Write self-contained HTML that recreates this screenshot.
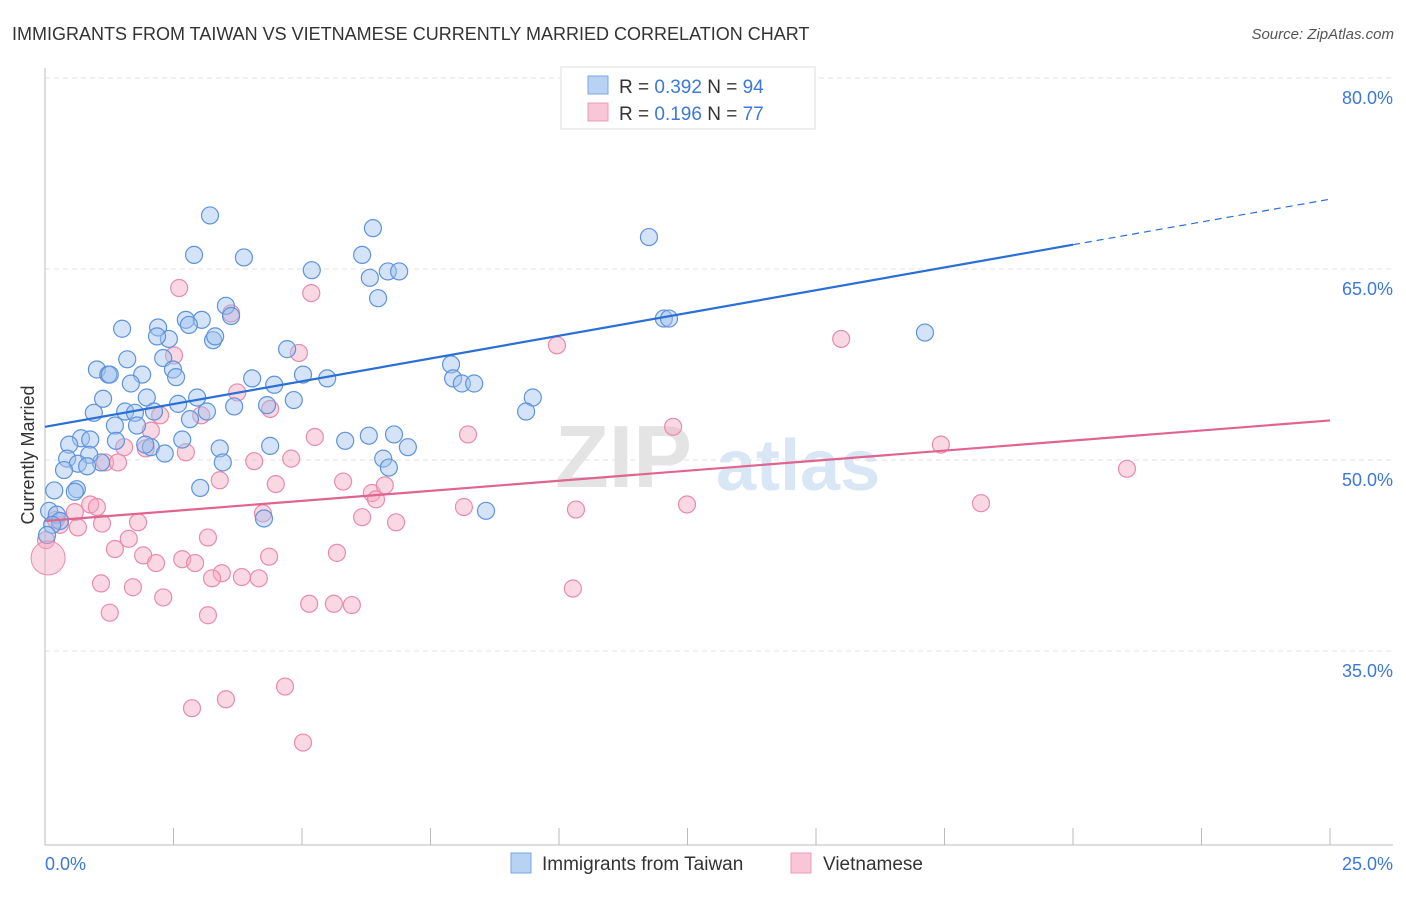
<!DOCTYPE html>
<html><head><meta charset="utf-8"><style>
body{margin:0;background:#fff;font-family:"Liberation Sans",sans-serif}
svg text{font-family:"Liberation Sans",sans-serif}
</style></head><body>
<svg id="chart" width="1406" height="892" xmlns="http://www.w3.org/2000/svg">
<text x="12" y="40" font-size="18" fill="#333">IMMIGRANTS FROM TAIWAN VS VIETNAMESE CURRENTLY MARRIED CORRELATION CHART</text>
<text x="1394" y="39" font-size="15" fill="#555" font-style="italic" text-anchor="end">Source: ZipAtlas.com</text>
<g>
<text x="555" y="487" font-size="88" fill="#e4e4e4" font-family="Liberation Serif" font-weight="bold">ZIP</text>
<text x="716" y="490" font-size="72" fill="#d8e6f5" font-weight="bold">atlas</text>
</g>
<g id="grid"></g>
<g id="axes"></g>
<g id="pts"></g>
<g id="lines"></g>
<text x="34" y="455" font-size="18" fill="#333" text-anchor="middle" transform="rotate(-90 34 455)">Currently Married</text>
<text x="45" y="870" font-size="18" fill="#3b78d8">0.0%</text>
<text x="1393" y="870" font-size="18" fill="#3b78d8" text-anchor="end">25.0%</text>
<g>
<rect x="561" y="67" width="254" height="62" fill="#fff" stroke="#ddd"/>
<rect x="588" y="76" width="20" height="18" fill="#b8d2f3" stroke="#7aa5e3"/>
<rect x="588" y="103" width="20" height="18" fill="#f8c6d6" stroke="#eb9bb7"/>
<text x="619" y="93" font-size="19" fill="#333">R = <tspan fill="#3b78d8">0.392</tspan>   N = <tspan fill="#3b78d8">94</tspan></text>
<text x="619" y="120" font-size="19" fill="#333">R =  <tspan fill="#3b78d8">0.196</tspan>   N = <tspan fill="#3b78d8">77</tspan></text>
</g>
<g>
<rect x="511" y="853" width="20" height="20" fill="#b8d2f3" stroke="#7aa5e3"/>
<text x="542" y="870" font-size="19" fill="#333">Immigrants from Taiwan</text>
<rect x="791" y="853" width="20" height="20" fill="#f8c6d6" stroke="#eb9bb7"/>
<text x="823" y="870" font-size="19" fill="#333">Vietnamese</text>
</g>
</svg>
<script>
const yTicks=[80,65,50,35];
const xTicks=[0,2.5,5,7.5,10,12.5,15,17.5,20,22.5,25];
const blueX=[3.21,2.90,3.87,6.38,6.17,5.19,6.32,6.67,6.89,6.48,11.75,3.52,3.62,2.74,3.05,2.20,2.80,1.50,3.27,3.31,2.41,2.18,1.60,2.30,1.01,1.23,1.26,2.49,1.89,1.67,2.55,4.71,5.02,5.49,7.90,7.94,8.11,8.35,9.49,9.36,12.04,12.14,17.12,4.03,4.46,4.84,4.32,3.68,3.15,2.59,2.96,1.98,1.13,0.95,1.56,1.75,2.12,2.82,1.36,1.79,2.06,1.95,1.38,0.70,0.88,0.47,2.67,3.40,4.38,5.84,6.30,6.79,7.06,6.58,6.69,3.46,2.33,1.09,0.86,0.43,0.64,0.37,0.82,3.02,4.26,8.58,0.62,0.58,0.18,0.08,0.23,0.29,0.14,0.04];
const blueY=[70.7,67.6,67.4,69.7,67.6,66.4,65.8,66.3,66.3,64.2,69.0,63.6,62.8,62.5,62.5,61.9,62.1,61.8,60.9,61.2,61.0,61.2,59.4,59.5,58.6,58.2,58.2,58.6,58.2,57.5,58.0,60.2,58.2,57.9,59.0,57.9,57.5,57.5,56.4,55.3,62.6,62.6,61.5,57.9,57.4,56.2,55.8,55.7,55.3,55.9,56.4,56.4,56.3,55.2,55.3,55.2,55.3,54.7,54.2,54.2,52.5,52.7,53.0,53.2,53.1,52.7,53.1,52.4,52.6,53.0,53.4,53.5,52.5,51.6,50.9,51.3,52.0,51.3,51.9,51.6,51.2,50.7,51.0,49.3,46.9,47.5,49.2,49.0,49.1,47.5,47.2,46.7,46.4,45.6];
const pinkX=[2.61,5.18,3.62,9.96,15.49,2.51,4.94,3.74,4.38,2.24,3.04,2.06,5.25,8.23,12.22,17.43,21.05,1.54,1.17,1.42,1.96,2.74,4.07,4.79,3.40,4.49,5.80,6.36,6.61,6.44,18.21,12.49,10.33,8.15,4.24,6.17,6.83,0.88,1.01,0.58,0.64,0.29,0.21,1.11,1.81,3.17,4.36,5.68,1.36,1.63,1.91,2.16,2.67,2.92,3.44,3.25,3.83,4.16,1.09,1.71,2.30,5.14,5.62,5.97,10.27,1.26,3.17,4.67,3.52,2.86,5.02,0.02];
const pinkY=[65.0,64.6,63.0,60.5,61.0,59.7,59.9,56.8,55.5,55.0,55.0,53.8,53.3,53.5,54.1,52.7,50.8,52.5,51.3,51.3,52.4,52.1,51.4,51.6,49.9,49.6,49.8,48.9,49.5,48.4,48.1,48.0,47.6,47.8,47.3,47.0,46.6,48.0,47.8,47.4,46.2,46.4,46.8,46.5,46.6,45.4,43.9,44.2,44.5,45.3,44.0,43.4,43.7,43.4,42.6,42.2,42.3,42.2,41.8,41.5,40.7,40.2,40.2,40.1,41.4,39.5,39.3,33.7,32.7,32.0,29.3,45.2];
const bigPink=[0.06,43.8];
const blueLine=[54.1,0.715];   // intercept, slope per %
const pinkLine=[46.7,0.316];
const NS='http://www.w3.org/2000/svg';
const X=v=>45+v*51.4, Y=v=>479-(v-50)*12.733;
function mk(t,a,p){const e=document.createElementNS(NS,t);for(const k in a)e.setAttribute(k,a[k]);p.appendChild(e);return e;}
const grid=document.getElementById('grid'),axes=document.getElementById('axes'),pts=document.getElementById('pts'),lines=document.getElementById('lines');
yTicks.forEach(t=>{
 const g=mk('line',{x1:45,x2:1393,y1:Y(t)-19,y2:Y(t)-19,stroke:'#e2e2e2','stroke-dasharray':'5,4'},grid);
 
 
 const tx=mk('text',{x:1393,y:Y(t)+7,'font-size':18,fill:'#3b78d8','text-anchor':'end'},grid);
 tx.textContent=t.toFixed(1)+'%';
 
 
});
const ax=mk('line',{x1:45,x2:45,y1:68,y2:845,stroke:'#bbb'},axes);


const bx=mk('line',{x1:45,x2:1393,y1:845,y2:845,stroke:'#bbb'},axes);


xTicks.forEach(t=>{
 const l=mk('line',{x1:X(t),x2:X(t),y1:828,y2:845,stroke:'#bbb'},axes);
 
 
});
function dots(xs,ys,fill,stroke,name){
 xs.forEach((x,i)=>{
  const c=mk('circle',{cx:X(x),cy:Y(ys[i]),r:8.5,fill:fill,'fill-opacity':0.45,stroke:stroke,'stroke-width':1.2},pts);
  
  
 });
}
dots(pinkX,pinkY,'#f4a9c2','#e98bab','point-vietnamese');
dots(blueX,blueY,'#9fc0ee','#5e93dc','point-taiwan');
const bp=mk('circle',{cx:X(bigPink[0]),cy:Y(bigPink[1]),r:17,fill:'#f4a9c2','fill-opacity':0.45,stroke:'#e98bab'},pts);


const f=(L,x)=>L[0]+L[1]*x;
const b1=mk('line',{x1:X(0),y1:Y(f(blueLine,0)),x2:X(20),y2:Y(f(blueLine,20)),stroke:'#2a6fd6','stroke-width':2.2},lines);


const b2=mk('line',{x1:X(20),y1:Y(f(blueLine,20)),x2:X(25),y2:Y(f(blueLine,25)),stroke:'#2a6fd6','stroke-width':1.2,'stroke-dasharray':'7,5'},lines);


const p1=mk('line',{x1:X(0),y1:Y(f(pinkLine,0)),x2:X(25),y2:Y(f(pinkLine,25)),stroke:'#e0648f','stroke-width':2.2},lines);


</script>
</body></html>
